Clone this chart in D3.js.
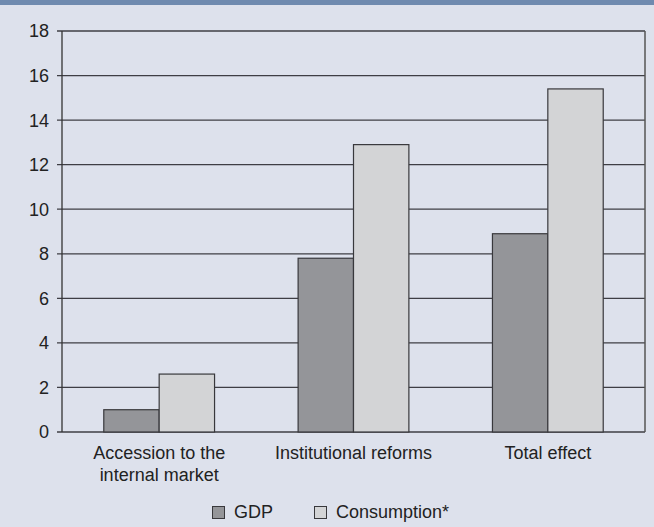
<!DOCTYPE html>
<html><head><meta charset="utf-8">
<script src="https://cdn.jsdelivr.net/npm/d3@7"></script>
<style>body{margin:0;background:#dde1ec;} svg{display:block;}</style>
</head><body>
<script>
const categories = [["Accession to the","internal market"],["Institutional reforms"],["Total effect"]];
const seriesNames = ["GDP","Consumption*"];
const gdp = [1.0, 7.8, 8.9];
const consumption = [2.6, 12.9, 15.4];
const yTicks = [0,2,4,6,8,10,12,14,16,18];

const W=654,H=527;
const m={l:62,r:9,t:31,b:95};
const svg=d3.select("body").append("svg").attr("width",W).attr("height",H);
svg.append("rect").attr("width",W).attr("height",H).attr("fill","#dde1ec");
svg.append("rect").attr("width",W).attr("height",5).attr("fill","#6f8aaf");
const font="'Liberation Sans', Arial, sans-serif";
const x=d3.scaleBand().domain(d3.range(categories.length)).range([m.l,W-m.r]).paddingInner(0.43).paddingOuter(0.215);
const xs=d3.scaleBand().domain(seriesNames).range([0,x.bandwidth()]);
const y=d3.scaleLinear().domain([0,18]).range([H-m.b,m.t]);
const colors={"GDP":"#949599","Consumption*":"#d3d4d6"};

// grid
const g=svg.append("g");
g.selectAll("line.grid").data(yTicks).join("line")
 .attr("x1",m.l-5).attr("x2",W-m.r).attr("y1",d=>y(d)).attr("y2",d=>y(d))
 .attr("stroke","#3e3e44").attr("stroke-width",1.3);
// right border
svg.append("line").attr("x1",W-m.r).attr("x2",W-m.r).attr("y1",y(18)).attr("y2",y(0)).attr("stroke","#555").attr("stroke-width",1.5);

const vals={"GDP":gdp,"Consumption*":consumption};
seriesNames.forEach(s=>{
  svg.append("g").selectAll("rect").data(vals[s]).join("rect")
   .attr("x",(d,i)=>x(i)+xs(s)).attr("width",xs.bandwidth())
   .attr("y",d=>y(d)).attr("height",d=>y(0)-y(d))
   .attr("fill",colors[s]).attr("stroke","#38383c").attr("stroke-width",1.2);
});
// left axis line
svg.append("line").attr("x1",m.l).attr("x2",m.l).attr("y1",y(18)).attr("y2",y(0)).attr("stroke","#333").attr("stroke-width",1.3);
svg.append("g").selectAll("text").data(yTicks).join("text")
 .attr("x",m.l-13).attr("y",d=>y(d)).attr("dy","0.36em").attr("text-anchor","end")
 .attr("font-family",font).attr("font-size",18).attr("fill","#222").text(d=>d);
// x labels
categories.forEach((c,i)=>{
  const t=svg.append("text").attr("x",x(i)+x.bandwidth()/2).attr("y",y(0)+27)
   .attr("text-anchor","middle").attr("font-family",font).attr("font-size",18).attr("fill","#222");
  c.forEach((line,j)=>t.append("tspan").attr("x",x(i)+x.bandwidth()/2).attr("dy",j?21.5:0).text(line));
});
// legend
const leg=[{s:"GDP",x:212},{s:"Consumption*",x:314}];
leg.forEach(l=>{
  svg.append("rect").attr("x",l.x+0.5).attr("y",506.5).attr("width",12).attr("height",12)
   .attr("fill",colors[l.s]).attr("stroke","#38383c").attr("stroke-width",1);
  svg.append("text").attr("x",l.x+22).attr("y",518).attr("font-family",font).attr("font-size",18).attr("fill","#222").text(l.s);
});
</script>
</body></html>
